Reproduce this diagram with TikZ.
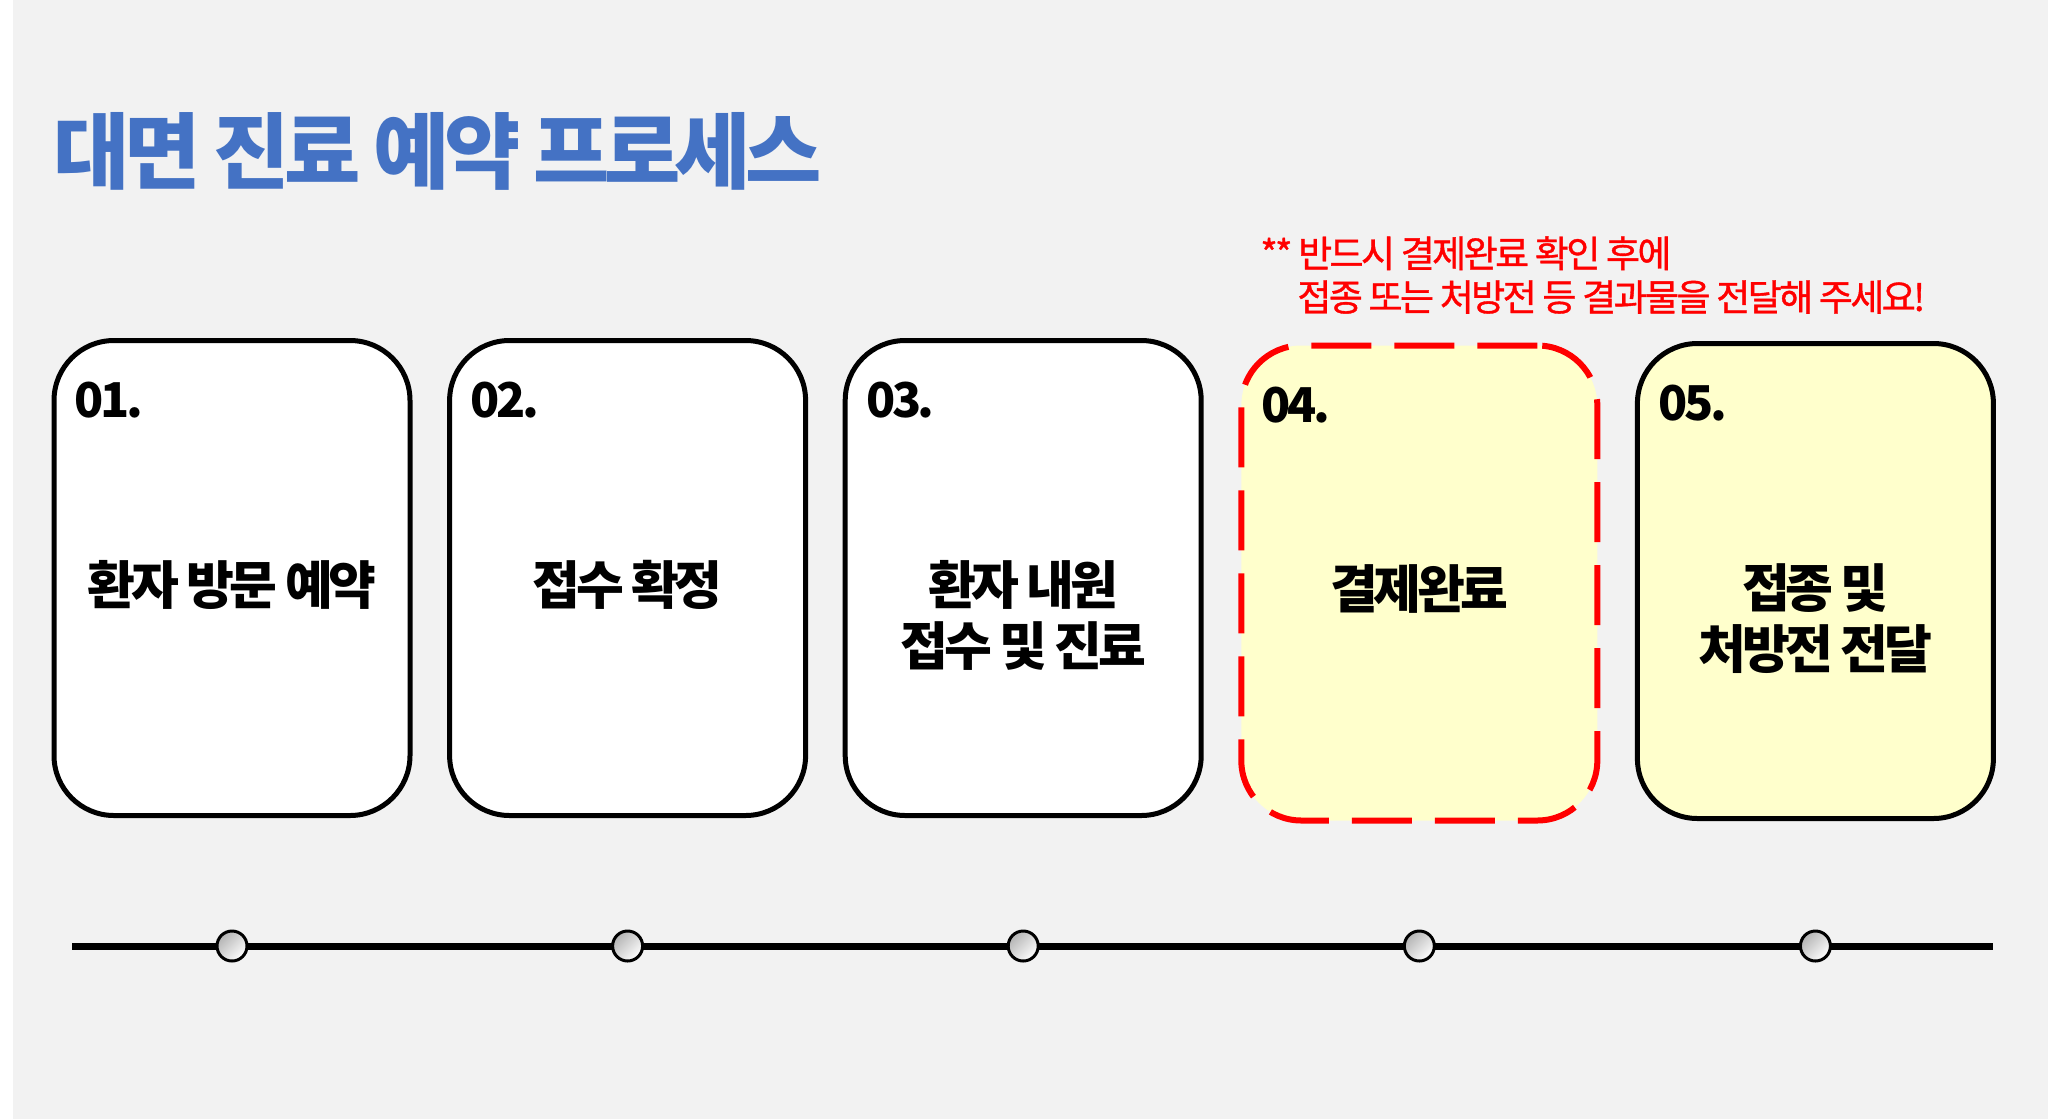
\documentclass[tikz,border=0pt]{standalone}
\usepackage{fontspec}
\setmainfont{Noto Sans CJK KR}
\usetikzlibrary{positioning}
\definecolor{bggray}{HTML}{F2F2F2}
\definecolor{titleblue}{HTML}{4472C4}
\definecolor{paleyellow}{HTML}{FFFFCC}
\definecolor{notered}{HTML}{FF0000}

\begin{document}
\begin{tikzpicture}[x=0.5pt, y=-0.5pt, node distance={17.3pt},
    card/.style = {draw, line width=2.5pt, rounded corners=30pt, fill=white, minimum width=178pt, minimum height=237.5pt, inner sep=0pt},
    cardnum/.style = {anchor=north west, inner sep=0pt, font=\bfseries\fontsize{24}{30}\selectfont\addfontfeatures{LetterSpace=-7}},
    cardtext/.style = {anchor=north, inner sep=0pt, align=center, font=\bfseries\fontsize{26}{30.5}\selectfont\addfontfeatures{LetterSpace=-8.5}},
    dot/.style = {draw, circle, line width=1.5pt, minimum size=15pt, inner sep=0pt, top color=gray!60, bottom color=white, shading angle=45}]
    \useasboundingbox (0,0) rectangle (2048,1119);
    \fill[white] (0,0) rectangle (2048,1119);
    \fill[bggray] (13,0) rectangle (2048,1119);

    % title and note
    \node[anchor=north west, inner sep=0pt, text=titleblue, font=\bfseries\fontsize{41.5}{48}\selectfont\addfontfeatures{LetterSpace=-7}] (title) at (53,112) {대면 진료 예약 프로세스};
    \node[anchor=north west, inner sep=0pt, align=left, text=notered, font=\fontsize{18.5}{21.8}\selectfont\addfontfeatures{LetterSpace=-7, FakeBold=1}] (note) at (1260,236) {** 반드시 결제완료 확인 후에\\\hspace*{18.5pt}접종 또는 처방전 등 결과물을 전달해 주세요!};

    % step cards
    \node[card] (s1) at (232,578) {};
    \node[card, right=of s1] (s2) {};
    \node[card, right=of s2] (s3) {};
    \node[card, right=of s3, yshift=-2.5pt, fill=paleyellow, draw=notered, line width=3pt, dash pattern=on 30pt off 11.5pt] (s4) {};
    \node[card, right=of s4, yshift=1pt, fill=paleyellow] (s5) {};

    \node[cardnum] (n1) at ([shift={(11.5pt,-22pt)}]s1.north west) {01.};
    \node[cardnum] (n2) at ([shift={(11.5pt,-22pt)}]s2.north west) {02.};
    \node[cardnum] (n3) at ([shift={(11.5pt,-22pt)}]s3.north west) {03.};
    \node[cardnum] (n4) at ([shift={(11.5pt,-22pt)}]s4.north west) {04.};
    \node[cardnum] (n5) at ([shift={(11.5pt,-22pt)}]s5.north west) {05.};

    \node[cardtext] (t1) at ([yshift=-111pt]s1.north) {환자 방문 예약};
    \node[cardtext] (t2) at ([yshift=-111pt]s2.north) {접수 확정};
    \node[cardtext] (t3) at ([yshift=-111pt]s3.north) {환자 내원\\접수 및 진료};
    \node[cardtext] (t4) at ([yshift=-111pt]s4.north) {결제완료};
    \node[cardtext] (t5) at ([yshift=-111pt]s5.north) {접종 및\\처방전 전달};

    % timeline
    \coordinate (lineL) at (72,946);
    \coordinate (lineR) at (1993,946);
    \draw[line width=3.5pt] (lineL) -- (lineR);
    \node[dot] (d1) at (s1 |- lineL) {};
    \node[dot] (d2) at (s2 |- lineL) {};
    \node[dot] (d3) at (s3 |- lineL) {};
    \node[dot] (d4) at (s4 |- lineL) {};
    \node[dot] (d5) at (s5 |- lineL) {};
\end{tikzpicture}
\end{document}
